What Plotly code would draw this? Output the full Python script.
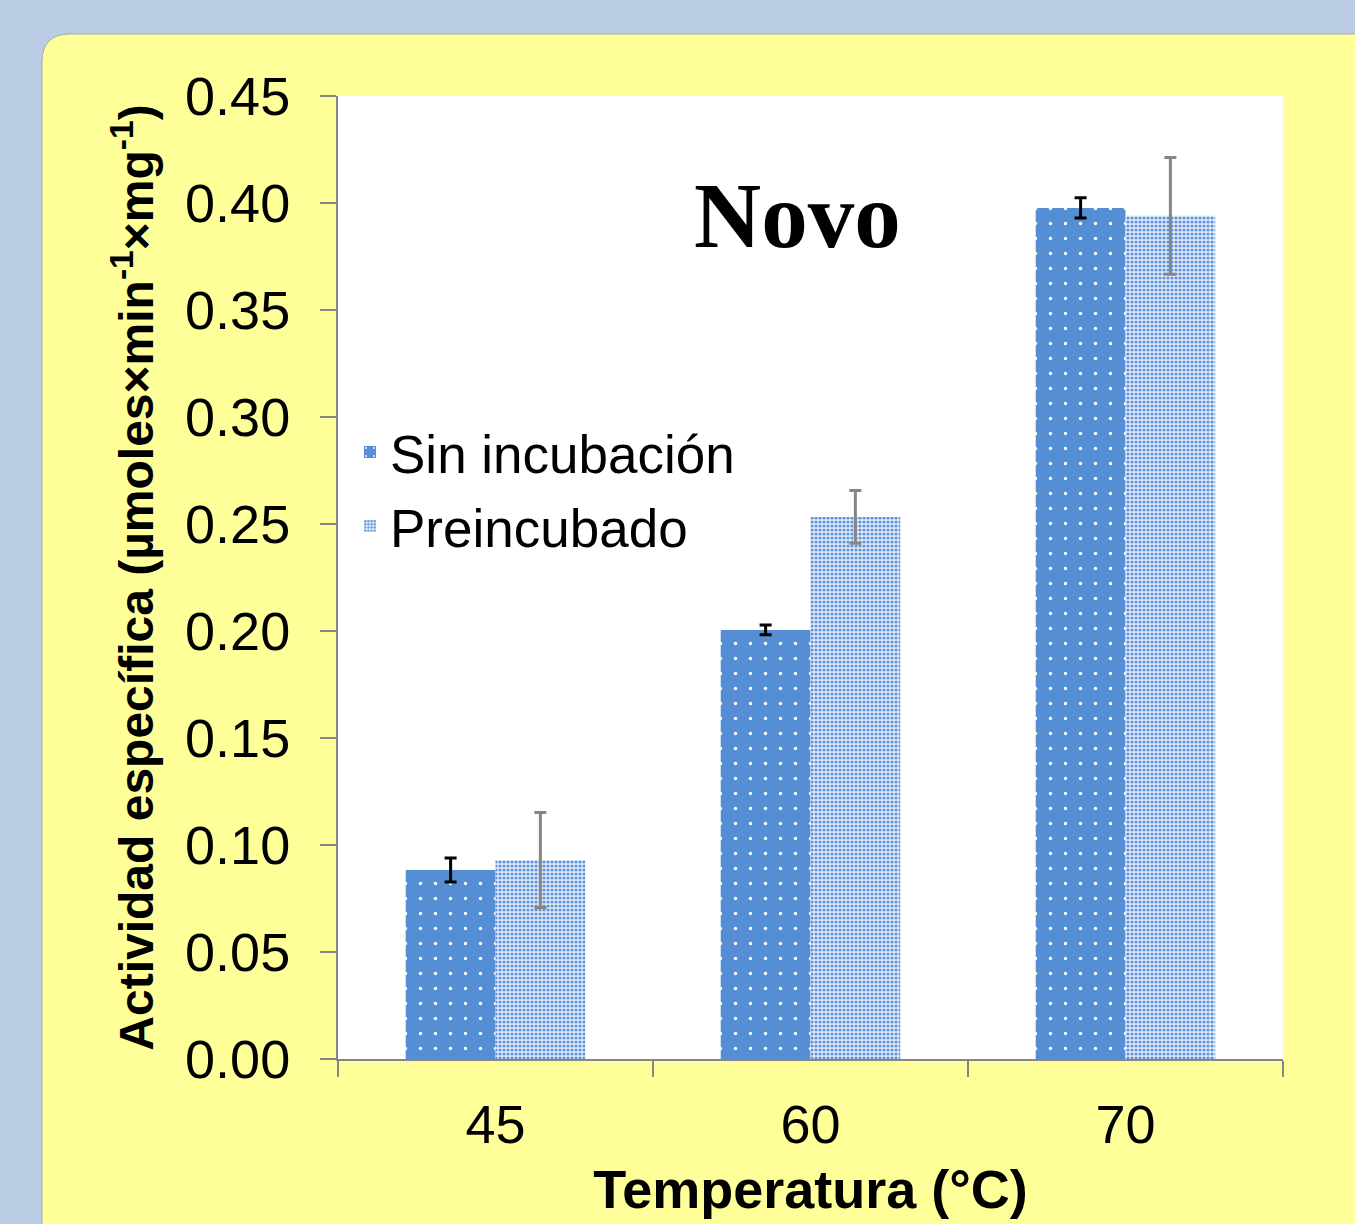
import plotly.graph_objects as go

categories = ["45", "60", "70"]
sin_incubacion = [0.0883, 0.2005, 0.3977]
sin_err = [0.0056, 0.0023, 0.0047]
preincubado = [0.0930, 0.2533, 0.3940]
pre_err = [0.0222, 0.0123, 0.0273]
y_ticks = [0.00, 0.05, 0.10, 0.15, 0.20, 0.25, 0.30, 0.35, 0.40, 0.45]
y_tick_labels = ["0.00", "0.05", "0.10", "0.15", "0.20", "0.25", "0.30", "0.35", "0.40", "0.45"]

W, H = 1355, 1224
L, R, T, B = 338, 72, 96, 165
pw, ph = W - L - R, H - T - B

def px_x(p):
    return (p - L) / pw

def px_y(p):
    return (H - B - p) / ph

fig = go.Figure()
fig.add_trace(go.Bar(
    name="Sin incubación", x=categories, y=sin_incubacion, legendgroup="a",
    marker=dict(color="#558ed5", line=dict(width=0),
                pattern=dict(shape=".", fgcolor="white", bgcolor="#558ed5",
                             size=15, solidity=0.04, fillmode="replace")),
    error_y=dict(type="data", array=sin_err, color="black", thickness=3, width=6),
))
fig.add_trace(go.Bar(
    name="Preincubado", x=categories, y=preincubado, legendgroup="b",
    marker=dict(color="#aac6ea", line=dict(width=0),
                pattern=dict(shape=".", fgcolor="#5f95d8", bgcolor="#e4edf9",
                             size=4, solidity=0.5, fillmode="replace")),
    error_y=dict(type="data", array=pre_err, color="#868686", thickness=3, width=6),
))

# yellow rounded panel
x0, y0 = px_x(42), px_y(34)
x1, y1 = px_x(1420), px_y(1300)
rx, ry = 28 / pw, 28 / ph
path = (f"M {x0},{y1} L {x0},{y0 - ry} Q {x0},{y0} {x0 + rx},{y0} "
        f"L {x1},{y0} L {x1},{y1} Z")
shapes = [
    dict(type="path", xref="paper", yref="paper", path=path,
         fillcolor="#ffff99", line=dict(color="#a8a8a8", width=1), layer="below"),
    dict(type="rect", xref="paper", yref="paper", x0=0, x1=1, y0=0, y1=1,
         fillcolor="white", line=dict(width=0), layer="below"),
]

fig.update_layout(
    width=W, height=H,
    margin=dict(l=L, r=R, t=T, b=B),
    paper_bgcolor="#b9cce4",
    plot_bgcolor="white",
    barmode="group", bargap=0.43, bargroupgap=0,
    font=dict(family="Liberation Sans, Arial, sans-serif", color="black", size=53),
    shapes=shapes,
    showlegend=True,
    legend=dict(x=px_x(350), y=px_y(411), xanchor="left", yanchor="top",
                bgcolor="rgba(0,0,0,0)", font=dict(size=53), itemsizing="constant",
                traceorder="grouped", tracegroupgap=2),
    annotations=[dict(text="<b>Novo</b>", x=px_x(797), y=px_y(162), xref="paper", yref="paper",
                      showarrow=False, font=dict(family="Liberation Serif, Times New Roman, serif",
                                                 size=93, color="black"))],
)
fig.update_xaxes(
    showgrid=False, showline=True, linecolor="#868686", linewidth=2,
    ticks="outside", tickson="boundaries", ticklen=16, tickcolor="#868686", tickwidth=2,
    tickfont=dict(size=54), ticklabelstandoff=17,
    title=dict(text="<b>Temperatura (°C)</b>", font=dict(size=54), standoff=17),
)
fig.update_yaxes(
    range=[0, 0.45], tickvals=y_ticks, ticktext=y_tick_labels,
    showgrid=False, zeroline=False, showline=True, linecolor="#868686", linewidth=2,
    ticks="outside", ticklen=16, tickcolor="#868686", tickwidth=2,
    tickfont=dict(size=54), ticklabelstandoff=19,
    title=dict(text="<b>Actividad específica (µmoles×min<sup>-1</sup>×mg<sup>-1</sup>)</b>",
               font=dict(size=48), standoff=16),
)
fig.write_html("out.html")
